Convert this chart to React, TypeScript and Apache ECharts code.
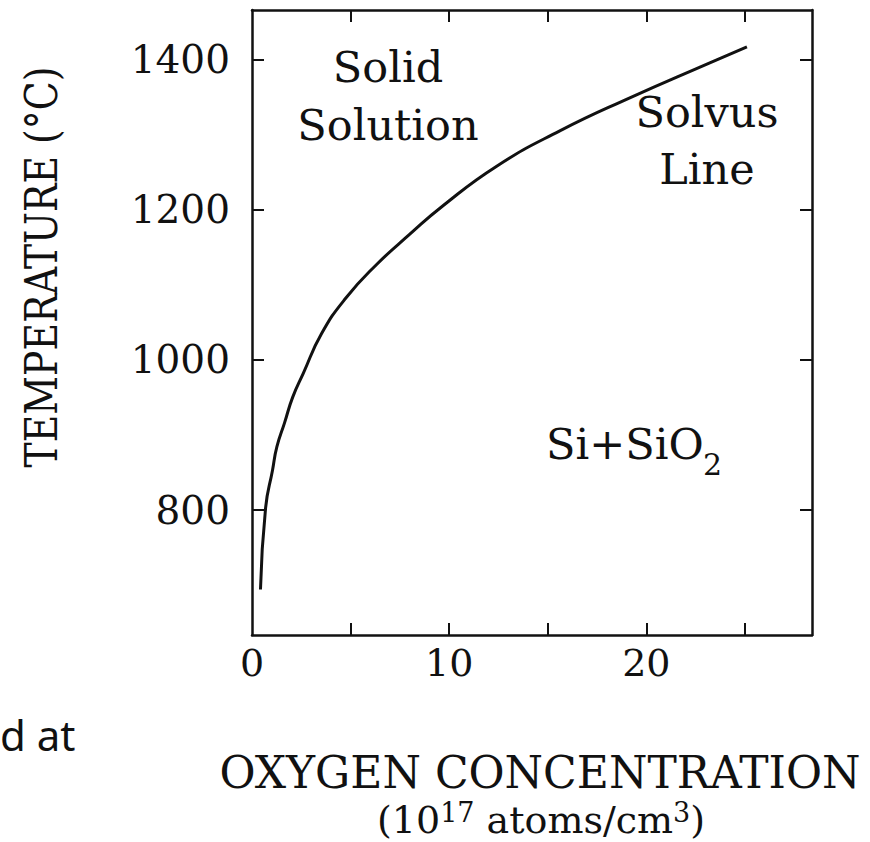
import React, { useEffect, useRef } from "react";
import * as echarts from "echarts";

// Oxygen concentration (10^17 atoms/cm3) along the solvus line
const concentration = [0.43, 0.69, 1.04, 1.26, 1.65, 2.06, 2.6, 3.53, 4.75, 6.32, 7.99, 9.67, 12.41, 15.61, 19.16, 23.07, 25.1];
// Temperature (°C) along the solvus line
const temperature = [694, 803, 853, 884, 916, 950, 982, 1035, 1082, 1127, 1167, 1205, 1258, 1305, 1349, 1394, 1417];

const xTicks = [5, 10, 15, 20, 25];
const xTickLabels = [0, 10, 20];
const yTicks = [800, 1000, 1200, 1400];

const INK = "#111111";
const SERIF = "DejaVu Serif";

export default function App() {
  const ref = useRef<HTMLDivElement>(null);

  useEffect(() => {
    if (!ref.current) return;
    const chart = echarts.init(ref.current, undefined, { renderer: "svg" });

    const axisLine = { show: true, onZero: false, lineStyle: { color: INK, width: 2.5 } };
    const tick = (vals: number[]) => ({
      show: true,
      inside: true,
      length: 12,
      customValues: vals,
      lineStyle: { color: INK, width: 2 },
    });

    const option: any = {
      animation: false,
      backgroundColor: "#ffffff",
      grid: { left: 252, top: 10, width: 560, height: 625, containLabel: false, outerBoundsMode: "none" },
      xAxis: [
        {
          type: "value",
          position: "bottom",
          min: 0,
          max: 28.4,
          axisLine,
          axisTick: tick(xTicks),
          axisLabel: {
            customValues: xTickLabels,
            formatter: (v: number) => String(v),
            fontFamily: SERIF,
            fontSize: 38,
            color: INK,
            margin: 9,
          },
          splitLine: { show: false },
        },
        {
          type: "value",
          position: "top",
          min: 0,
          max: 28.4,
          axisLine,
          axisTick: tick(xTicks),
          axisLabel: { show: false },
          splitLine: { show: false },
        },
      ],
      yAxis: [
        {
          type: "value",
          position: "left",
          min: 633.5,
          max: 1466,
          axisLine,
          axisTick: tick(yTicks),
          axisLabel: {
            customValues: yTicks,
            formatter: (v: number) => String(v),
            fontFamily: SERIF,
            fontSize: 39,
            color: INK,
            margin: 22,
          },
          splitLine: { show: false },
        },
        {
          type: "value",
          position: "right",
          min: 633.5,
          max: 1466,
          axisLine,
          axisTick: tick(yTicks),
          axisLabel: { show: false },
          splitLine: { show: false },
        },
      ],
      series: [
        {
          type: "line",
          xAxisIndex: 0,
          yAxisIndex: 0,
          data: concentration.map((c, i) => [c, temperature[i]]),
          showSymbol: false,
          smooth: 0.5,
          lineStyle: { color: INK, width: 3 },
        },
      ],
      graphic: [
        {
          type: "text",
          x: 42,
          y: 267,
          rotation: Math.PI / 2,
          scaleX: 0.86,
          style: {
            text: "TEMPERATURE (°C)",
            font: `44px "${SERIF}"`,
            fill: INK,
            align: "center",
            verticalAlign: "middle",
          },
        },
        {
          type: "text",
          x: 388,
          y: 67,
          style: { text: "Solid", font: `43px "${SERIF}"`, fill: INK, align: "center", verticalAlign: "middle" },
        },
        {
          type: "text",
          x: 388,
          y: 125,
          style: { text: "Solution", font: `43px "${SERIF}"`, fill: INK, align: "center", verticalAlign: "middle" },
        },
        {
          type: "text",
          x: 707,
          y: 112,
          style: { text: "Solvus", font: `43px "${SERIF}"`, fill: INK, align: "center", verticalAlign: "middle" },
        },
        {
          type: "text",
          x: 707,
          y: 169,
          style: { text: "Line", font: `43px "${SERIF}"`, fill: INK, align: "center", verticalAlign: "middle" },
        },
        {
          type: "text",
          x: 546,
          y: 444,
          style: { text: "Si+SiO", font: `43px "${SERIF}"`, fill: INK, align: "left", verticalAlign: "middle" },
        },
        {
          type: "text",
          x: 703,
          y: 464,
          style: { text: "2", font: `30px "${SERIF}"`, fill: INK, align: "left", verticalAlign: "middle" },
        },
        {
          type: "text",
          x: 540,
          y: 772,
          style: {
            text: "OXYGEN CONCENTRATION",
            font: `44px "${SERIF}"`,
            fill: INK,
            align: "center",
            verticalAlign: "middle",
          },
        },
        {
          type: "text",
          x: 541,
          y: 819,
          style: {
            text: "{n|(10}{s|17}{n| atoms/cm}{s|3}{n|)}",
            align: "center",
            verticalAlign: "middle",
            rich: {
              n: { fontFamily: SERIF, fontSize: 38, fill: INK, lineHeight: 40, verticalAlign: "bottom" },
              s: { fontFamily: SERIF, fontSize: 27, fill: INK, lineHeight: 40, verticalAlign: "top" },
            },
          },
        },
        {
          type: "text",
          x: 0,
          y: 734,
          style: { text: "d at", font: `42px "Noto Sans"`, fill: INK, align: "left", verticalAlign: "middle" },
        },
      ],
    };

    chart.setOption(option);
    return () => chart.dispose();
  }, []);

  return <div ref={ref} style={{ position: "absolute", left: 0, top: 0, width: 870, height: 842 }} />;
}
